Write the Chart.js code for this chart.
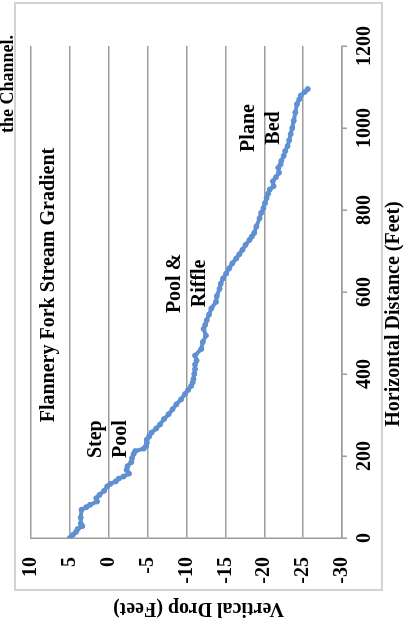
<!DOCTYPE html>
<html>
<head>
<meta charset="utf-8">
<title>Flannery Fork Stream Gradient</title>
<style>
  html, body { margin: 0; padding: 0; background: #fff; width: 410px; height: 627px; overflow: hidden; }
  /* the chart is laid out landscape and turned a quarter turn counter-clockwise */
  #frame { position: absolute; left: 0; top: 0; width: 627px; height: 410px;
           transform-origin: 0 0; transform: translate(0, 627px) rotate(-90deg); }
  canvas { display: block; }
</style>
<script src="https://cdn.jsdelivr.net/npm/chart.js@4/dist/chart.umd.min.js"></script>
</head>
<body>
<div id="frame"><canvas id="gradient" width="627" height="410"></canvas></div>
<script>
// Surveyed profile: horizontal distance along the channel (ft) and vertical drop (ft)
const distanceFt = [
  0, 8, 15, 22, 29, 35, 50, 69, 75, 81,
  89, 97, 105, 115, 126, 132, 138, 145, 150, 157,
  166, 175, 185, 195, 205, 212, 218, 224, 232, 240,
  248, 257, 267, 277, 290, 302, 314, 326, 338, 351,
  361, 371, 380, 388, 400, 412, 423, 433, 445, 461,
  478, 494, 510, 520, 531, 545, 560, 576, 590, 608,
  620, 633, 645, 658, 670, 682, 692, 703, 715, 727,
  735, 744, 760, 780, 793, 805, 817, 829, 840, 850,
  858, 870, 880, 891, 903, 911, 920, 932, 944, 956,
  970, 985, 1000, 1018, 1038, 1058, 1070, 1079, 1088, 1095
];
const dropFt = [
  5.0, 4.6, 4.2, 4.0, 3.4, 3.6, 3.6, 3.5, 2.9, 2.4,
  1.5, 1.6, 1.2, 0.6, 0.2, -0.2, -0.9, -1.3, -1.9, -2.6,
  -2.3, -2.4, -2.9, -3.0, -3.2, -3.4, -4.5, -4.8, -4.9, -4.9,
  -5.2, -5.5, -6.1, -6.6, -7.1, -7.7, -8.2, -8.7, -9.3, -9.8,
  -10.2, -10.6, -10.8, -10.9, -11.0, -11.1, -11.1, -11.3, -11.1, -11.9,
  -12.1, -12.5, -12.2, -12.4, -12.6, -12.9, -13.2, -13.8, -13.9, -14.25,
  -14.4, -14.7, -15.1, -15.5, -15.9, -16.4, -16.8, -17.2, -17.6, -18.1,
  -18.4, -18.7, -19.0, -19.4, -19.6, -19.9, -20.1, -20.3, -20.5, -20.7,
  -21.2, -21.1, -21.5, -21.9, -21.8, -22.1, -22.2, -22.5, -22.7, -23.0,
  -23.2, -23.4, -23.6, -23.8, -24.0, -24.2, -24.5, -24.7, -25.2, -25.6
];

// Axis ticks
const distanceTicks = [0, 200, 400, 600, 800, 1000, 1200];
const dropTicks = [10, 5, 0, -5, -10, -15, -20, -25, -30];

// Text
const chartTitle = 'Flannery Fork Stream Gradient';
const distanceTitle = 'Horizontal Distance (Feet)';
const dropTitle = 'Vertical Drop (Feet)';
const captionTail = 'the Channel.';

// Channel-type labels, anchored in data units (distance, drop of the first line)
const reachLabels = [
  { lines: ['Step', 'Pool'],      at: [241, 0.96] },
  { lines: ['Pool &', 'Riffle'],  at: [621, -9.1] },
  { lines: ['Plane', 'Bed'],      at: [1000, -18.7] }
];

const SERIF = "'Liberation Serif', 'Times New Roman', serif";
const BOLD20 = 'bold 20px ' + SERIF;
const LINE_BLUE = '#5f90d2';
const GRID = '#9c9c9c';

const textLayer = {
  id: 'textLayer',
  beforeDraw(chart) {
    const c = chart.ctx;
    c.save();
    c.fillStyle = '#fff';
    c.fillRect(0, 0, chart.width, chart.height);
    c.strokeStyle = '#d3d3d3';
    c.lineWidth = 2;
    c.strokeRect(37, 15, 587, 367);
    c.restore();
  },
  afterDraw(chart) {
    const c = chart.ctx;
    const xs = chart.scales.x, ys = chart.scales.y;
    c.save();
    c.fillStyle = '#000';
    c.font = BOLD20;
    c.textAlign = 'center';
    c.textBaseline = 'alphabetic';

    c.fillText(chartTitle, xs.getPixelForValue(617), ys.getPixelForValue(7.07));

    reachLabels.forEach(r => {
      const px = xs.getPixelForValue(r.at[0]);
      const py = ys.getPixelForValue(r.at[1]);
      r.lines.forEach((t, i) => c.fillText(t, px, py + i * 25));
    });

    c.textBaseline = 'middle';
    c.fillText(distanceTitle, 313, 393.5);

    c.save();
    c.translate(18.5, 198.5);
    c.rotate(-Math.PI / 2);
    c.fillText(dropTitle, 0, 0);
    c.restore();

    // tail of the caption line above the figure, partly cut by the page edge
    c.font = 'bold 18px ' + SERIF;
    c.textAlign = 'right';
    c.textBaseline = 'alphabetic';
    c.fillText(captionTail, 592, 13);
    c.restore();
  }
};

new Chart(document.getElementById('gradient'), {
  type: 'scatter',
  data: {
    datasets: [{
      data: distanceFt.map((d, i) => ({ x: d, y: dropFt[i] })),
      showLine: true,
      borderColor: LINE_BLUE,
      backgroundColor: LINE_BLUE,
      borderWidth: 4,
      pointRadius: 2.5,
      pointBorderWidth: 1,
      pointBorderColor: LINE_BLUE,
      pointHoverRadius: 0,
      tension: 0
    }]
  },
  options: {
    responsive: false,
    animation: false,
    devicePixelRatio: 1,
    layout: { padding: { left: 0, right: 46, top: 28, bottom: 0 } },
    plugins: { legend: { display: false }, tooltip: { enabled: false }, title: { display: false } },
    scales: {
      x: {
        type: 'linear',
        min: distanceTicks[0],
        max: distanceTicks[distanceTicks.length - 1],
        afterBuildTicks: s => { s.ticks = distanceTicks.map(v => ({ value: v })); },
        ticks: {
          color: '#000', font: { family: SERIF, size: 20, weight: 'bold' },
          padding: 6, maxRotation: 0, autoSkip: false,
          callback: v => String(v)
        },
        grid: { drawOnChartArea: false, drawTicks: true, tickLength: 5, color: GRID, lineWidth: 1.5 },
        border: { color: GRID, width: 1.5 },
        afterFit: s => { s.height = 68; }
      },
      y: {
        type: 'linear',
        min: dropTicks[dropTicks.length - 1],
        max: dropTicks[0],
        afterBuildTicks: s => { s.ticks = dropTicks.slice().reverse().map(v => ({ value: v })); },
        ticks: {
          color: '#000', font: { family: SERIF, size: 20, weight: 'bold' },
          padding: 19, autoSkip: false,
          callback: v => String(v)
        },
        grid: { drawTicks: false, color: GRID, lineWidth: 1.5 },
        border: { color: GRID, width: 1.5 },
        afterFit: s => { s.height = undefined; s.width = 89; }
      }
    }
  },
  plugins: [textLayer]
});
</script>
</body>
</html>
